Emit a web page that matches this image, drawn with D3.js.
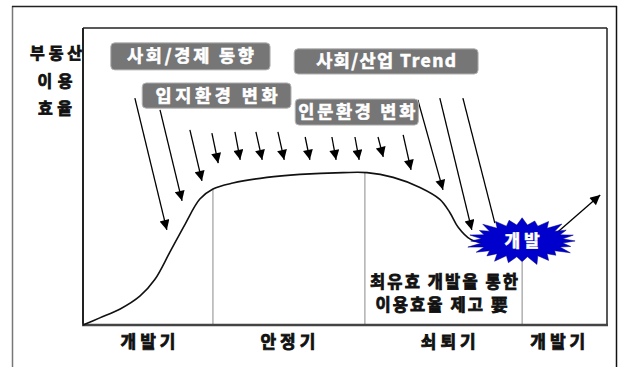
<!DOCTYPE html>
<html><head><meta charset="utf-8">
<script src="https://cdn.jsdelivr.net/npm/d3@7"></script>
<style>
html,body{margin:0;padding:0;background:#fff;}
svg{display:block;}
text{font-family:"Noto Sans CJK KR","Noto Sans",sans-serif;font-weight:700;}
</style></head>
<body>
<script>
// ---- data ----
const phases = ["개발기", "안정기", "쇠퇴기", "개발기"];
const phaseCenters = [12.4, 39.1, 69.7, 90.6];
const dividers = [24.8, 53.8, 83.8];
const curveX = [0, 3.2, 7.1, 10.9, 13.7, 16.6, 19.5, 22.3, 24.8, 28.6, 35.1, 41.4, 49.6, 54.2, 59.2, 64.3, 68.1, 70.0, 71.6, 73.9, 76.7];
const curveY = [0, 2.4, 5.4, 9.8, 15.3, 24.6, 34.0, 42.4, 45.8, 47.8, 49.7, 50.7, 51.3, 51.3, 49.7, 46.3, 42.3, 37.9, 32.9, 28.9, 27.5];
const factorLabels = ["사회/경제 동향", "입지환경 변화", "사회/산업 Trend", "인문환경 변화"];
const yLabelLines = ["부동산", "이용", "효율"];
const burstLabel = "개발";
const noteLines = ["최유효 개발을 통한", "이용효율 제고 要"];
// arrows: start x, start y, end x, end y (data units), head flag
const arrowX1 = [9.9, 14.7, 20.4, 24.6, 29.0, 33.0, 37.2, 42.4, 47.5, 51.9, 56.3, 61.1, 63.9, 68.1, 72.5, 90.6];
const arrowY1 = [76.4, 72.4, 65.7, 64.6, 65.0, 65.0, 65.0, 63.3, 63.3, 63.3, 63.3, 64.0, 75.8, 76.4, 76.4, 31.3];
const arrowX2 = [16.0, 18.9, 22.7, 25.8, 30.0, 34.2, 38.4, 43.3, 48.3, 52.7, 57.3, 62.6, 68.7, 74.2, 78.6, 98.7];
const arrowY2 = [32.0, 41.8, 48.5, 54.5, 55.6, 55.6, 55.6, 55.6, 55.6, 55.6, 56.6, 52.2, 45.5, 32.0, 34.3, 43.8];
const arrowHead = [1,1,1,1,1,1,1,1,1,1,1,1,1,1,0,1];
const burstCenter = [83.8, 28.3];

// ---- layout ----
const W = 622, H = 367;
const svg = d3.select("body").append("svg").attr("width", W).attr("height", H);
const x = d3.scaleLinear().domain([0, 100]).range([83, 607]);
const y = d3.scaleLinear().domain([0, 100]).range([325, 28]);

// outer frame
svg.append("line").attr("x1", 12.5).attr("y1", 6).attr("x2", 12.5).attr("y2", H).attr("stroke", "#777").attr("stroke-width", 1.5);
svg.append("line").attr("x1", 12).attr("y1", 6.5).attr("x2", 617).attr("y2", 6.5).attr("stroke", "#222").attr("stroke-width", 1.5);
svg.append("line").attr("x1", 616.5).attr("y1", 6).attr("x2", 616.5).attr("y2", H).attr("stroke", "#111").attr("stroke-width", 1.5);

// inner frame
svg.append("line").attr("x1", x(0)).attr("y1", y(100)).attr("x2", x(100)).attr("y2", y(100)).attr("stroke", "#222").attr("stroke-width", 1.5);
svg.append("line").attr("x1", x(100)).attr("y1", y(100)).attr("x2", x(100)).attr("y2", y(0)).attr("stroke", "#222").attr("stroke-width", 1.5);
svg.append("line").attr("x1", x(0)).attr("y1", y(100)).attr("x2", x(0)).attr("y2", y(0)).attr("stroke", "#222").attr("stroke-width", 2);

// dividers
const curvePts = curveX.map((d, i) => [d, curveY[i]]);
const divTop = [45.8, 51.3, burstCenter[1] - 7];
svg.selectAll(".div").data(dividers).enter().append("line")
  .attr("x1", d => x(d)).attr("x2", d => x(d))
  .attr("y1", (d, i) => y(divTop[i])).attr("y2", y(0))
  .attr("stroke", "#8a8a8a").attr("stroke-width", 1);

// x axis
svg.append("line").attr("x1", x(0) - 1).attr("y1", y(0)).attr("x2", x(100) + 1).attr("y2", y(0)).attr("stroke", "#444").attr("stroke-width", 2.5);

function bold(sel, col) {
  return sel.attr("stroke", col).attr("stroke-width", 0.8).attr("paint-order", "stroke");
}

// phase labels
bold(svg.selectAll(".ph").data(phases).enter().append("text")
  .attr("x", (d, i) => x(phaseCenters[i])).attr("y", y(0) + 23)
  .attr("text-anchor", "middle").attr("font-size", 17).attr("fill", "#111")
  .attr("textLength", 55).attr("lengthAdjust", "spacing")
  .text(d => d), "#111");

// y label
const yLabW = [52, 35, 34];
bold(svg.selectAll(".yl").data(yLabelLines).enter().append("text")
  .attr("x", (d, i) => i === 0 ? 56 : 55).attr("y", (d, i) => 59 + i * 27.5)
  .attr("text-anchor", "middle").attr("font-size", 16).attr("fill", "#111")
  .attr("textLength", (d, i) => yLabW[i]).attr("lengthAdjust", "spacing")
  .text(d => d), "#111");

// curve
const line = d3.line().x(d => x(d[0])).y(d => y(d[1])).curve(d3.curveCatmullRom.alpha(0.5));
svg.append("path").attr("d", line(curvePts)).attr("fill", "none").attr("stroke", "#111").attr("stroke-width", 1.6);

// arrow marker
const defs = svg.append("defs");
defs.append("marker").attr("id", "ah").attr("viewBox", "0 0 10 10").attr("refX", 10).attr("refY", 5)
  .attr("markerWidth", 12).attr("markerHeight", 10).attr("markerUnits", "userSpaceOnUse").attr("orient", "auto")
  .append("path").attr("d", "M0,0 L10,5 L0,10 Z").attr("fill", "#000");

svg.selectAll(".arr").data(arrowX1).enter().append("line")
  .attr("x1", d => x(d)).attr("y1", (d, i) => y(arrowY1[i]))
  .attr("x2", (d, i) => x(arrowX2[i])).attr("y2", (d, i) => y(arrowY2[i]))
  .attr("stroke", "#000").attr("stroke-width", 1.3)
  .attr("marker-end", (d, i) => arrowHead[i] ? "url(#ah)" : null);

// factor boxes
const boxes = [
  {x0: 5.3, x1: 35.7, y0: 95.0, y1: 85.9, tw: 127},
  {x0: 11.3, x1: 39.7, y0: 81.5, y1: 73.0, tw: 122},
  {x0: 40.3, x1: 75.4, y0: 93.0, y1: 84.5, tw: 140},
  {x0: 40.5, x1: 64.0, y0: 76.1, y1: 67.3, tw: 117}
];
const bg = svg.selectAll(".box").data(factorLabels).enter().append("g");
bg.append("rect")
  .attr("x", (d, i) => x(boxes[i].x0)).attr("y", (d, i) => y(boxes[i].y0))
  .attr("width", (d, i) => x(boxes[i].x1) - x(boxes[i].x0))
  .attr("height", (d, i) => y(boxes[i].y1) - y(boxes[i].y0))
  .attr("rx", 4).attr("fill", "#767676").attr("stroke", "#b5b5b5").attr("stroke-width", 1);
bold(bg.append("text")
  .attr("x", (d, i) => (x(boxes[i].x0) + x(boxes[i].x1)) / 2)
  .attr("y", (d, i) => (y(boxes[i].y0) + y(boxes[i].y1)) / 2 + 6)
  .attr("text-anchor", "middle").attr("font-size", 17.5).attr("fill", "#fff")
  .attr("textLength", (d, i) => boxes[i].tw).attr("lengthAdjust", "spacing")
  .text(d => d), "#fff").attr("stroke-width", 0.6);

// starburst
const n = 24;
const rmul = [1.0, 0.95, 1.05, 0.9, 1.0, 1.08, 0.92, 1.0, 1.04, 0.94, 1.0, 1.06, 0.97, 1.02, 0.93, 1.05, 1.0, 0.95, 1.03, 0.92, 1.0, 1.06, 0.96, 1.0];
const cx = x(burstCenter[0]), cy = y(burstCenter[1]);
const pts = [];
for (let i = 0; i < n * 2; i++) {
  const a = Math.PI * i / n;
  const outer = i % 2 === 0;
  const m = rmul[Math.floor(i / 2)];
  const rx = outer ? 53 * m : 41;
  const ry = outer ? 22.5 * m : 16;
  pts.push([cx + rx * Math.cos(a), cy + ry * Math.sin(a)]);
}
svg.append("path").attr("d", "M" + pts.map(p => p.join(",")).join("L") + "Z").attr("fill", "#0000cc").attr("stroke", "#000080").attr("stroke-width", 0.5);
bold(svg.append("text").attr("x", cx).attr("y", cy + 6).attr("text-anchor", "middle")
  .attr("font-size", 17).attr("fill", "#fff").attr("textLength", 35).attr("lengthAdjust", "spacing").text(burstLabel), "#fff").attr("stroke-width", 0.6);

// note
const noteW = [148, 132];
bold(svg.selectAll(".note").data(noteLines).enter().append("text")
  .attr("x", (d, i) => i === 0 ? x(68.9) : x(68.4)).attr("y", (d, i) => y(14.5) + 6 + i * 23)
  .attr("text-anchor", "middle").attr("font-size", 16.5).attr("fill", "#111")
  .attr("textLength", (d, i) => noteW[i]).attr("lengthAdjust", "spacing")
  .text(d => d), "#111");
</script>
</body></html>
